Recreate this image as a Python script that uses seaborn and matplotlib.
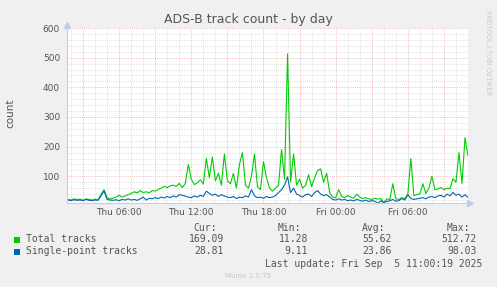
import matplotlib
matplotlib.use("Agg")
import matplotlib.pyplot as plt
import matplotlib.dates as mdates
from matplotlib.ticker import MultipleLocator, FuncFormatter
from matplotlib.patches import Rectangle
import numpy as np
import pandas as pd
import seaborn as sns

# ---- data (15-minute samples, Thu 2025-09-04 01:45 .. Fri 2025-09-05 11:00) ----
start_time = "2025-09-04 01:45"
total_tracks = [
    22, 20, 24, 21, 23, 19, 24, 22, 20, 23, 21, 40, 55, 28, 24, 26, 30, 36, 30, 34,
    38, 42, 48, 44, 52, 45, 48, 44, 52, 50, 56, 60, 66, 62, 68, 70, 66, 76, 62, 75,
    140, 90, 72, 78, 88, 74, 160, 95, 165, 85, 110, 70, 175, 85, 75, 110, 60, 140, 180, 70,
    60, 100, 175, 65, 55, 150, 95, 60, 50, 60, 70, 190, 90, 512.72, 80, 175, 70, 90, 60, 70,
    105, 65, 95, 120, 125, 80, 110, 45, 30, 28, 55, 32, 28, 35, 30, 26, 40, 30, 25, 28,
    24, 22, 26, 23, 25, 11.28, 24, 22, 75, 24, 22, 28, 25, 40, 160, 35, 38, 40, 75, 42,
    60, 100, 55, 58, 62, 55, 60, 58, 92, 80, 180, 75, 230, 169.09,
]
single_point_tracks = [
    20, 18, 21, 19, 20, 18, 22, 19, 18, 20, 19, 35, 50, 22, 20, 19, 21, 18, 22, 20,
    24, 20, 22, 19, 24, 30, 20, 26, 24, 28, 25, 30, 27, 32, 28, 34, 30, 38, 36, 33,
    30, 28, 34, 30, 36, 32, 50, 42, 36, 40, 32, 38, 34, 30, 28, 32, 25, 30, 28, 34,
    30, 55, 34, 28, 30, 26, 32, 28, 30, 35, 45, 55, 70, 98.03, 45, 60, 40, 35, 30, 38,
    40, 32, 45, 52, 40, 35, 38, 30, 22, 20, 24, 20, 22, 18, 20, 17, 22, 19, 16, 20,
    15, 18, 16, 9.11, 17, 12, 15, 18, 22, 16, 18, 25, 20, 38, 25, 22, 24, 26, 28, 24,
    30, 32, 28, 34, 36, 30, 40, 34, 46, 36, 40, 30, 38, 28.81,
]
series_names = ["Total tracks", "Single-point tracks"]
series_colors = ["#00CC00", "#0066B3"]
stats_cur = ["169.09", "28.81"]
stats_min = ["11.28", "9.11"]
stats_avg = ["55.62", "23.86"]
stats_max = ["512.72", "98.03"]

times = pd.date_range(start_time, periods=len(total_tracks), freq="15min")
df = pd.DataFrame({"time": times, "total": total_tracks, "single": single_point_tracks})

# ---- figure ----
sns.set_style("white")
plt.rcParams["font.family"] = ["DejaVu Sans"]
W, H = 497, 287
BG = "#F0F0F0"
TXT = "#555555"
fig = plt.figure(figsize=(W / 100, H / 100), dpi=100, facecolor=BG)
ax = fig.add_axes([67 / W, (H - 203) / H, 401 / W, 175 / H])
ax.set_facecolor("white")

sns.lineplot(data=df, x="time", y="total", color=series_colors[0], linewidth=0.8, ax=ax)
sns.lineplot(data=df, x="time", y="single", color=series_colors[1], linewidth=0.8, ax=ax)

ax.set_xlim(pd.Timestamp("2025-09-04 01:40"), pd.Timestamp("2025-09-05 11:00"))
ax.set_ylim(10, 600)

# grid
ax.xaxis.set_major_locator(mdates.HourLocator(byhour=range(0, 24, 3)))
ax.xaxis.set_minor_locator(mdates.HourLocator())
def xfmt(v, pos):
    d = mdates.num2date(v)
    return d.strftime("%a %H:%M") if d.hour % 6 == 0 else ""
ax.xaxis.set_major_formatter(FuncFormatter(xfmt))
ax.yaxis.set_major_locator(MultipleLocator(100))
ax.yaxis.set_minor_locator(MultipleLocator(20))
ax.grid(which="minor", color="#d6d6d6", linestyle=(0, (1, 1.5)), linewidth=0.6)
ax.grid(which="major", color="#e6a8a8", linestyle=(0, (1, 1.5)), linewidth=0.6)
ax.set_axisbelow(True)

ax.tick_params(axis="both", which="both", length=0, labelsize=6.5, labelcolor=TXT)
ax.tick_params(axis="y", pad=5)
ax.tick_params(axis="x", pad=3.5)
ax.tick_params(axis="x", which="minor", length=2, color="#cccccc", direction="out")
ax.set_xlabel("")
ax.set_ylabel("")

axis_col = "#c4cbef"
for s in ["top", "right"]:
    ax.spines[s].set_visible(False)
for s in ["left", "bottom"]:
    ax.spines[s].set_color(axis_col)
    ax.spines[s].set_linewidth(0.8)
ax.plot([0], [1.02], marker="^", color=axis_col, markersize=4, transform=ax.transAxes, clip_on=False)
ax.plot([0, 0], [1.0, 1.02], color=axis_col, linewidth=0.8, transform=ax.transAxes, clip_on=False)
ax.plot([1.005], [0], marker=">", color=axis_col, markersize=4, transform=ax.transAxes, clip_on=False)

# ---- texts ----
def px(x, y):
    return x / W, 1 - y / H

fig.text(*px(248, 19), "ADS-B track count - by day", ha="center", va="center", fontsize=9, color=TXT)
fig.text(*px(10.5, 113), "count", ha="center", va="center", rotation=90, fontsize=7.5, color=TXT)
fig.text(*px(488, 53), "RRDTOOL / TOBI OETIKER", ha="center", va="center", rotation=-90,
         fontsize=4.8, color="#c8c8c8")
fig.text(*px(248, 276), "Munin 2.0.75", ha="center", va="center", fontsize=5, color="#c8c8c8")

mono = dict(family="DejaVu Sans Mono", fontsize=7, color=TXT, va="center")
fig.text(*px(217, 228), "Cur:", ha="right", **mono)
fig.text(*px(301, 228), "Min:", ha="right", **mono)
fig.text(*px(385, 228), "Avg:", ha="right", **mono)
fig.text(*px(470, 228), "Max:", ha="right", **mono)
rows_y = [239.5, 251.5]
for i, name in enumerate(series_names):
    y = rows_y[i]
    fig.patches.append(Rectangle(px(14, y + 3), 6 / W, 6 / H, transform=fig.transFigure,
                                 facecolor=series_colors[i], edgecolor="none"))
    fig.text(*px(26, y), name, ha="left", **mono)
    fig.text(*px(224, y), stats_cur[i], ha="right", **mono)
    fig.text(*px(308, y), stats_min[i], ha="right", **mono)
    fig.text(*px(392, y), stats_avg[i], ha="right", **mono)
    fig.text(*px(477, y), stats_max[i], ha="right", **mono)
fig.text(*px(482, 264), "Last update: Fri Sep  5 11:00:19 2025", ha="right", **mono)

fig.savefig("out.png", dpi=100, facecolor=BG)
